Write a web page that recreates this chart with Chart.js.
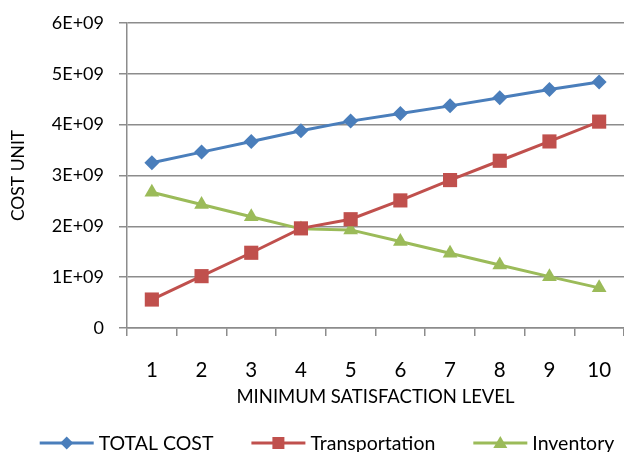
<!DOCTYPE html>
<html>
<head>
<meta charset="utf-8">
<script src="https://cdn.jsdelivr.net/npm/chart.js@4/dist/chart.umd.min.js"></script>
<style>
  html, body { margin: 0; padding: 0; background: #fff; }
  #wrap { width: 624px; height: 452px; }
</style>
</head>
<body>
<div id="wrap"><canvas id="c" width="624" height="452"></canvas></div>
<script>
// Minimum satisfaction level (x categories)
const levels = ['1', '2', '3', '4', '5', '6', '7', '8', '9', '10'];

// Cost series
const totalCost      = [3.25e9, 3.46e9, 3.67e9, 3.88e9, 4.07e9, 4.22e9, 4.37e9, 4.53e9, 4.69e9, 4.84e9];
const transportation = [0.56e9, 1.02e9, 1.48e9, 1.96e9, 2.14e9, 2.51e9, 2.91e9, 3.29e9, 3.67e9, 4.06e9];
const inventory      = [2.67e9, 2.43e9, 2.19e9, 1.95e9, 1.93e9, 1.70e9, 1.47e9, 1.24e9, 1.01e9, 0.79e9];

// Y axis tick labels, one per 1E+09 step
const yTickLabels = ['0', '1E+09', '2E+09', '3E+09', '4E+09', '5E+09', '6E+09'];

const BLUE = '#4A7EBB', RED = '#C0504D', GREEN = '#9BBB59';
const FONT = 'Lato, "Open Sans", sans-serif';
const AXIS_GREY = '#8c8c8c';

// Pick a font size so that a sample string spans a given width
const measureCtx = document.createElement('canvas').getContext('2d');
function sizeFor(text, width) {
  measureCtx.font = '100px ' + FONT;
  return Math.round(100 * width / measureCtx.measureText(text).width * 2) / 2;
}
const Y_TICK_SIZE = sizeFor('6E+09', 52);
const X_TICK_SIZE = sizeFor('10', 24);
const X_TITLE_SIZE = sizeFor('MINIMUM SATISFACTION LEVEL', 278);
const Y_TITLE_SIZE = sizeFor('COST UNIT', 90);
const LEGEND_SIZE = sizeFor('Transportation', 125);

const series = [
  { label: 'TOTAL COST', data: totalCost, color: BLUE, style: 'rectRot', r: 7.5 },
  { label: 'Transportation', data: transportation, color: RED, style: 'rect', r: 10 },
  { label: 'Inventory', data: inventory, color: GREEN, style: 'triangle', r: 8.5 }
];

// Legend row under the x axis: line + marker swatch, then the series name
const legendRow = {
  id: 'legendRow',
  afterDraw(chart) {
    const ctx = chart.ctx;
    const y = 443;
    const lineLen = 54, textGap = 5, itemGap = 38;
    ctx.save();
    ctx.font = LEGEND_SIZE + 'px ' + FONT;
    const widths = series.map(s => ctx.measureText(s.label).width);
    const total = widths.reduce((a, w) => a + lineLen + textGap + w, 0) + itemGap * (series.length - 1);
    let x = 327 - total / 2;
    series.forEach((s, i) => {
      ctx.strokeStyle = s.color;
      ctx.fillStyle = s.color;
      ctx.lineWidth = 3;
      ctx.beginPath();
      ctx.moveTo(x, y); ctx.lineTo(x + lineLen, y);
      ctx.stroke();
      const cx = x + lineLen / 2;
      ctx.beginPath();
      if (s.style === 'rectRot') {
        ctx.moveTo(cx, y - 6.5); ctx.lineTo(cx + 6.5, y); ctx.lineTo(cx, y + 6.5); ctx.lineTo(cx - 6.5, y);
      } else if (s.style === 'rect') {
        ctx.rect(cx - 6, y - 6, 12, 12);
      } else {
        ctx.moveTo(cx, y - 7); ctx.lineTo(cx + 7, y + 5); ctx.lineTo(cx - 7, y + 5);
      }
      ctx.closePath();
      ctx.fill();
      ctx.fillStyle = '#000';
      ctx.textBaseline = 'middle';
      ctx.textAlign = 'left';
      ctx.fillText(s.label, x + lineLen + textGap, y + 1);
      x += lineLen + textGap + widths[i] + itemGap;
    });
    ctx.restore();
  }
};

new Chart(document.getElementById('c'), {
  type: 'line',
  data: {
    labels: levels,
    datasets: series.map(s => ({
      label: s.label,
      data: s.data,
      borderColor: s.color,
      backgroundColor: s.color,
      borderWidth: 3,
      pointStyle: s.style,
      pointRadius: s.r,
      pointHoverRadius: s.r,
      pointBorderWidth: 0,
      pointBackgroundColor: s.color,
      tension: 0
    }))
  },
  plugins: [legendRow],
  options: {
    responsive: false,
    animation: false,
    devicePixelRatio: 1,
    layout: { autoPadding: false, padding: { top: 23, right: 0, left: 0, bottom: 44 } },
    plugins: {
      tooltip: { enabled: false },
      legend: { display: false }
    },
    scales: {
      x: {
        offset: true,
        grid: { offset: true, drawOnChartArea: false, tickLength: 8, color: AXIS_GREY, lineWidth: 1.5 },
        border: { color: AXIS_GREY, width: 1.5 },
        ticks: { color: '#000', font: { family: FONT, size: X_TICK_SIZE }, padding: 22, maxRotation: 0, autoSkip: false },
        title: { display: true, text: 'MINIMUM SATISFACTION LEVEL', color: '#000', font: { family: FONT, size: X_TITLE_SIZE }, padding: { top: 0, bottom: 0 } },
        afterFit(scale) {
          scale.height = 80;
          scale.paddingLeft = 0;
          scale.paddingRight = 0;
        }
      },
      y: {
        min: 0,
        max: 6e9,
        grid: { color: AXIS_GREY, lineWidth: 1.5, tickLength: 8 },
        border: { color: AXIS_GREY, width: 1.5 },
        ticks: {
          stepSize: 1e9,
          color: '#000',
          padding: 15,
          font: { family: FONT, size: Y_TICK_SIZE },
          callback: (v) => yTickLabels[Math.round(v / 1e9)]
        },
        title: { display: true, text: 'COST UNIT', color: '#000', font: { family: FONT, size: Y_TITLE_SIZE }, padding: { top: 8, bottom: 0 } },
        afterFit(scale) {
          scale.width = 127;
          scale.paddingTop = 0;
          scale.paddingBottom = 0;
        }
      }
    }
  }
});
</script>
</body>
</html>
